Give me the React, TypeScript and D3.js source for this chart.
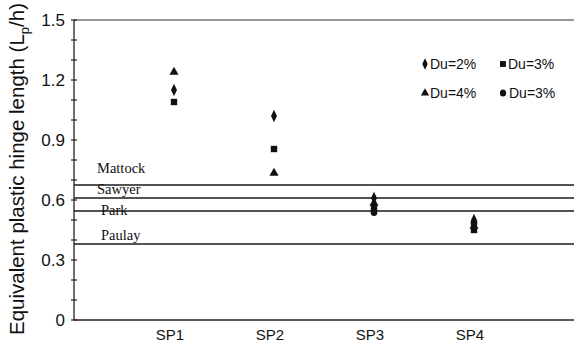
import React from "react";
import * as d3 from "d3";

// ---- data ----
const categories = ["SP1", "SP2", "SP3", "SP4"];
const seriesNames = ["Du=2%", "Du=3%", "Du=4%", "Du=3%"];
const seriesShapes = ["diamond", "square", "triangle", "circle"];
const du2 = [1.15, 1.02, 0.61, 0.5];
const du3 = [1.09, 0.855, 0.56, 0.45];
const du4 = [1.24, 0.735, 0.585, 0.47];
const du3b: (number | null)[] = [null, null, 0.54, 0.485];
const seriesValues = [du2, du3, du4, du3b];

const refNames = ["Mattock", "Sawyer", "Park", "Paulay"];
const refValues = [0.675, 0.61, 0.545, 0.38];

const yTickLabels = [0, 0.3, 0.6, 0.9, 1.2, 1.5];
const yMinorTicks = d3.range(0, 1.51, 0.1);

// ---- layout ----
const W = 574, H = 356;
const M = { left: 74, right: 574, top: 20, bottom: 320 };
const refLabelDx = [23, 23, 27, 27];
const refLabelDy = [-12, -4, 4, -4];
const legendPos = [
  [425, 64],
  [503, 64],
  [425, 93],
  [503, 93],
];

const x = d3.scalePoint<string>().domain(categories).range([M.left, M.right]).padding(1);
const y = d3.scaleLinear().domain([0, 1.5]).range([M.bottom, M.top]);

const sans = "'Liberation Sans', Arial, sans-serif";
const serif = "'Liberation Serif', 'Times New Roman', serif";
const ink = "#111";

function Marker({ shape, cx, cy, s = 1 }: { shape: string; cx: number; cy: number; s?: number }) {
  if (shape === "diamond") {
    const p = d3.symbol(d3.symbolDiamond, 38 * s)();
    return <path d={p!} transform={`translate(${cx},${cy}) scale(0.9,1.1)`} fill={ink} />;
  }
  if (shape === "square") {
    const h = 3.2 * Math.sqrt(s);
    return <rect x={cx - h} y={cy - h} width={2 * h} height={2 * h} fill={ink} />;
  }
  if (shape === "triangle") {
    const p = d3.symbol(d3.symbolTriangle, 36 * s)();
    return <path d={p!} transform={`translate(${cx},${cy})`} fill={ink} />;
  }
  return <ellipse cx={cx} cy={cy} rx={3.4 * Math.sqrt(s)} ry={3.9 * Math.sqrt(s)} fill={ink} />;
}

export default function App() {
  return (
    <svg width={W} height={H} style={{ position: "absolute", left: 0, top: 0, background: "#fff" }}>
      {/* frame */}
      <line x1={M.left} x2={M.right} y1={M.top} y2={M.top} stroke="#333" strokeWidth={1.2} />
      <line x1={M.left} x2={M.right} y1={M.bottom} y2={M.bottom} stroke="#222" strokeWidth={1.3} />
      <line x1={M.left} x2={M.left} y1={M.top} y2={M.bottom} stroke="#222" strokeWidth={1.3} />
      {/* y ticks */}
      {yMinorTicks.map((t, i) => (
        <line key={i} x1={M.left - 3} x2={M.left + 3} y1={y(t)} y2={y(t)} stroke="#222" strokeWidth={1.2} />
      ))}
      {yTickLabels.map((t, i) => (
        <text
          key={i}
          x={M.left - 9}
          y={y(t)}
          dy="0.36em"
          textAnchor="end"
          fontFamily={sans}
          fontSize={17}
          fill={ink}
        >
          {t === 0 ? "0" : d3.format(".1f")(t)}
        </text>
      ))}
      {/* y title */}
      <text
        transform={`translate(24,169) rotate(-90)`}
        textAnchor="middle"
        fontFamily={sans}
        fontSize={20.5}
        fill={ink}
      >
        Equivalent plastic hinge length (L
        <tspan fontSize={13} dy={5}>p</tspan>
        <tspan dy={-5}>/h)</tspan>
      </text>
      {/* x labels */}
      {categories.map((c) => (
        <text
          key={c}
          x={x(c)! - 4}
          y={M.bottom + 20}
          textAnchor="middle"
          fontFamily={sans}
          fontSize={15}
          fill={ink}
        >
          {c}
        </text>
      ))}
      {/* reference lines */}
      {refValues.map((v, i) => (
        <g key={i}>
          <line x1={M.left} x2={M.right} y1={y(v)} y2={y(v)} stroke="#1a1a1a" strokeWidth={1.3} />
          <text
            x={M.left + refLabelDx[i]}
            y={y(v) + refLabelDy[i]}
            fontFamily={serif}
            fontSize={14.5}
            fill={ink}
          >
            {refNames[i]}
          </text>
        </g>
      ))}
      {/* points */}
      {seriesValues.map((vals, si) =>
        vals.map((v, ci) =>
          v == null ? null : (
            <Marker key={`${si}-${ci}`} shape={seriesShapes[si]} cx={x(categories[ci])!} cy={y(v)} />
          )
        )
      )}
      {/* legend */}
      {seriesNames.map((n, i) => (
        <g key={i}>
          <Marker shape={seriesShapes[i]} cx={legendPos[i][0]} cy={legendPos[i][1]} s={0.85} />
          <text
            x={legendPos[i][0] + (i === 3 ? 6 : 5)}
            y={legendPos[i][1] + 5}
            fontFamily={sans}
            fontSize={14}
            fill={ink}
          >
            {n}
          </text>
        </g>
      ))}
    </svg>
  );
}
